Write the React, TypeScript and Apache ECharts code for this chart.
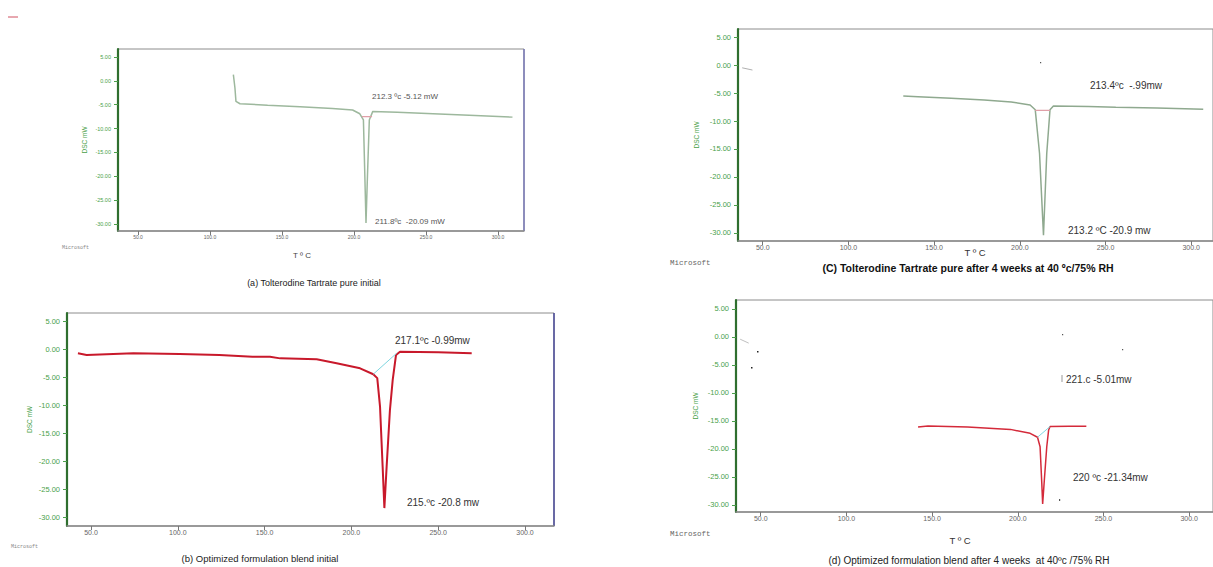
import React, { useEffect, useRef } from "react";
import * as echarts from "echarts";

// ---- tick labels ----
const xTicks = [50, 100, 150, 200, 250, 300];
const yTicks = [5, 0, -5, -10, -15, -20, -25, -30];

// ---- (a) Tolterodine Tartrate pure initial ----
const aTemp = [116.2, 117.3, 118, 120.8, 140, 162.5, 185, 199, 204, 206.5, 207.5, 208.3, 209.3, 210.6, 213, 230, 254.9, 280, 310];
const aDsc = [1.3, -1.5, -4.3, -4.8, -5.1, -5.4, -5.8, -6.1, -6.9, -8.2, -20, -29.8, -20, -8.2, -6.4, -6.6, -6.9, -7.2, -7.6];
const aBaseTemp = [205.5, 212.5];
const aBaseDsc = [-7.5, -7.5];

// ---- (b) Optimized formulation blend initial ----
const bTemp = [42.5, 47.5, 74.4, 101, 124, 143, 153.1, 159, 180, 191.5, 205, 212.6, 214.9, 216.5, 218, 219, 220.3, 222.2, 223.8, 225.7, 228, 250, 269.3];
const bDsc = [-0.77, -1.07, -0.77, -0.9, -1.07, -1.4, -1.4, -1.67, -1.84, -2.55, -3.45, -4.5, -5.2, -10.3, -21, -28.4, -21, -10.9, -5.5, -1.07, -0.47, -0.6, -0.77];
const bTanTemp = [212.6, 226];
const bTanDsc = [-4.5, -0.77];

// ---- (c) Tolterodine Tartrate pure after 4 weeks ----
const cTemp = [132, 140.6, 160, 179.2, 195, 206, 209, 211.5, 213.8, 215.7, 217.6, 219.6, 240, 256, 280, 307];
const cDsc = [-5.54, -5.66, -5.95, -6.25, -6.6, -7.14, -8.0, -15.8, -30.4, -15.8, -8.0, -7.3, -7.4, -7.56, -7.7, -7.9];
const cBaseTemp = [209, 217.6];
const cBaseDsc = [-8.1, -8.1];
const cStubTemp = [38, 44];
const cStubDsc = [-0.5, -0.9];

// ---- (d) Optimized formulation blend after 4 weeks ----
const dTemp = [141.8, 147.6, 170.7, 195.7, 207.2, 211.5, 213, 214, 214.5, 215.5, 216.9, 218, 218.8, 230, 240];
const dDsc = [-16.07, -15.9, -16.07, -16.5, -17.2, -17.9, -19.6, -26.1, -29.8, -25.5, -19.6, -16.6, -16.0, -15.95, -15.96];
const dTanTemp = [211.5, 218.8];
const dTanDsc = [-17.9, -16.0];
const dStubTemp = [38, 43];
const dStubDsc = [-0.4, -1.1];

const zip = (t: number[], v: number[]) => t.map((x, i) => [x, v[i]]);

const GREEN_AXIS = "#2f6f2f";
const GREEN_LBL = "#4a9f4a";
const FONT = "Liberation Sans, Arial, sans-serif";

const panels = [
  { grid: { left: 118, top: 49, width: 406, height: 182 }, xMin: 36.1, xMax: 318, yMin: -31.47, yMax: 6.68, lbl: 5.5, xl: 5, nameGap: 30 },
  { grid: { left: 67, top: 313, width: 487, height: 213 }, xMin: 36.2, xMax: 316.7, yMin: -31.6, yMax: 6.43, lbl: 7.5, xl: 7, nameGap: 34 },
  { grid: { left: 738, top: 29, width: 480, height: 212 }, xMin: 35.57, xMax: 312.7, yMin: -31.43, yMax: 6.43, lbl: 7.5, xl: 7, nameGap: 38 },
  { grid: { left: 736, top: 300, width: 482, height: 212 }, xMin: 35.57, xMax: 313.9, yMin: -31.25, yMax: 6.6, lbl: 7.5, xl: 7, nameGap: 37 },
];

function line(i: number, data: number[][], color: string, width: number, z = 2) {
  return {
    type: "line",
    xAxisIndex: i,
    yAxisIndex: i,
    data,
    showSymbol: false,
    symbol: "none",
    smooth: false,
    lineStyle: { color, width },
    z,
    silent: true,
  };
}

function txt(x: number, y: number, text: string, size: number, opts: any = {}) {
  return {
    type: "text",
    x,
    y,
    silent: true,
    style: {
      text,
      fontSize: size,
      fontFamily: opts.family || FONT,
      fontWeight: opts.weight || "normal",
      fill: opts.color || "#333",
      align: opts.align || "left",
      verticalAlign: "middle",
    },
  };
}

function gline(x1: number, y1: number, x2: number, y2: number, color: string, w = 1) {
  return { type: "line", silent: true, shape: { x1, y1, x2, y2 }, style: { stroke: color, lineWidth: w } };
}

function dot(x: number, y: number, w = 1.5, h = 1.5, c = "#222") {
  return { type: "rect", silent: true, shape: { x, y, width: w, height: h }, style: { fill: c } };
}

export default function App() {
  const ref = useRef<HTMLDivElement>(null);
  useEffect(() => {
    if (!ref.current) return;
    const chart = echarts.init(ref.current, null, { renderer: "svg" });
    const option: any = {
      animation: false,
      backgroundColor: "#ffffff",
      grid: panels.map((p) => ({ ...p.grid, show: true, borderColor: "#8c8c8c", borderWidth: 1, containLabel: false })),
      xAxis: panels.map((p, i) => ({
        gridIndex: i,
        type: "value",
        min: p.xMin,
        max: p.xMax,
        axisLine: { show: true, onZero: false, lineStyle: { color: "#8a8a8a", width: 1.5 } },
        axisTick: { show: true, customValues: xTicks, length: 4, lineStyle: { color: "#777" } },
        axisLabel: {
          customValues: xTicks,
          formatter: (v: number) => v.toFixed(1),
          color: "#666",
          fontSize: p.xl,
          fontFamily: FONT,
          margin: 3,
        },
        splitLine: { show: false },
      })),
      yAxis: panels.map((p, i) => ({
        gridIndex: i,
        type: "value",
        min: p.yMin,
        max: p.yMax,
        axisLine: { show: true, onZero: false, lineStyle: { color: GREEN_AXIS, width: 2.2 } },
        axisTick: { show: true, customValues: yTicks, length: 4, lineStyle: { color: GREEN_LBL } },
        axisLabel: {
          customValues: yTicks,
          formatter: (v: number) => v.toFixed(2),
          color: GREEN_LBL,
          fontSize: p.lbl,
          fontFamily: FONT,
          margin: 7,
        },
        splitLine: { show: false },
        name: "DSC mW",
        nameLocation: "middle",
        nameRotate: 90,
        nameGap: p.nameGap,
        nameTextStyle: { color: GREEN_LBL, fontSize: 6.5, fontFamily: FONT },
      })),
      series: [
        line(0, zip(aTemp, aDsc), "#9db89d", 1.5),
        line(0, zip(aBaseTemp, aBaseDsc), "#e0a0a8", 1.2, 3),
        line(1, zip(bTemp, bDsc), "#c8192b", 2),
        line(1, zip(bTanTemp, bTanDsc), "#7fd6e0", 1, 3),
        line(2, zip(cTemp, cDsc), "#8fa98f", 1.5),
        line(2, zip(cBaseTemp, cBaseDsc), "#e0a0a8", 1.2, 3),
        line(2, zip(cStubTemp, cStubDsc), "#b0b0b0", 1),
        line(3, zip(dTemp, dDsc), "#d42a3a", 1.5),
        line(3, zip(dTanTemp, dTanDsc), "#7fd6e0", 1, 3),
        line(3, zip(dStubTemp, dStubDsc), "#c0c0c0", 1),
      ],
      graphic: [
        // right borders
        gline(524, 49, 524, 231, "#7a7ab8", 1.5),
        gline(554, 313, 554, 526, "#4a4a9a", 1.5),
        // top-left marks
        gline(8, 17, 18, 17, "#d05060", 1),
        // (a)
        txt(372, 96, "212.3 ºc -5.12 mW", 8, { color: "#555" }),
        txt(375, 221, "211.8ºc  -20.09 mW", 8, { color: "#555" }),
        txt(302, 255, "T º C", 8, { color: "#444", align: "center" }),
        txt(62, 248, "Microsoft", 5, { color: "#888", family: "Liberation Mono, monospace" }),
        txt(314, 283, "(a) Tolterodine Tartrate pure initial", 9, { color: "#222", align: "center" }),
        // (b)
        txt(395, 340, "217.1ºc -0.99mw", 10, { color: "#333" }),
        txt(407, 502, "215.ºc -20.8 mw", 10, { color: "#333" }),
        txt(11, 547, "Microsoft", 5, { color: "#888", family: "Liberation Mono, monospace" }),
        txt(260, 558, "(b) Optimized formulation blend initial", 9.5, { color: "#222", align: "center" }),
        // (c)
        txt(1090, 85, "213.4ºc  -.99mw", 10, { color: "#333" }),
        txt(1068, 230, "213.2 ºC -20.9 mw", 10, { color: "#333" }),
        txt(975, 252, "T º C", 9.5, { color: "#333", align: "center" }),
        txt(670, 263, "Microsoft", 7.5, { color: "#666", family: "Liberation Mono, monospace" }),
        txt(968, 268, "(C) Tolterodine Tartrate pure after 4 weeks at 40 ºc/75% RH", 10.5, { color: "#111", weight: "bold", align: "center" }),
        dot(1040, 62, 1.2, 1.2, "#555"),
        // (d)
        txt(1066, 379, "221.c -5.01mw", 10, { color: "#333" }),
        txt(1073, 477, "220 ºc -21.34mw", 10, { color: "#333" }),
        txt(960, 540, "T º C", 9.5, { color: "#333", align: "center" }),
        txt(670, 534, "Microsoft", 7.5, { color: "#666", family: "Liberation Mono, monospace" }),
        txt(969, 560, "(d) Optimized formulation blend after 4 weeks  at 40ºc /75% RH", 10, { color: "#222", align: "center" }),
        dot(757, 351),
        dot(751, 367),
        dot(1062, 334, 1.2, 1.2, "#555"),
        dot(1122, 349, 1.2, 1.2, "#555"),
        dot(1059, 499, 1.2, 2, "#555"),
        gline(1062, 375, 1062, 382, "#999", 1),
      ],
    };
    chart.setOption(option);
    return () => chart.dispose();
  }, []);
  return (
    <div
      ref={ref}
      style={{ position: "absolute", left: 0, top: 0, width: 1213, height: 567, background: "#fff" }}
    />
  );
}
